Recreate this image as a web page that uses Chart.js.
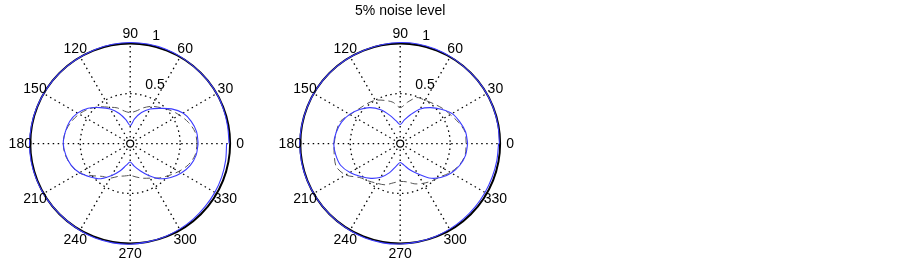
<!DOCTYPE html>
<html>
<head>
<meta charset="utf-8">
<script src="https://cdn.jsdelivr.net/npm/chart.js@4.4.1/dist/chart.umd.min.js"></script>
<style>
  body { margin: 0; background: #fff; width: 903px; height: 265px; overflow: hidden; }
  canvas { position: absolute; top: 0; }
  #leftPolar { left: 0; }
  #rightPolar { left: 270px; }
</style>
</head>
<body>
<canvas id="leftPolar" width="270" height="265"></canvas>
<canvas id="rightPolar" width="270" height="265"></canvas>
<script>
// angles in degrees, one value every 10 deg, last one closes the loop
const angles = [0,10,20,30,40,50,60,70,80,90,100,110,120,130,140,150,160,170,180,
                190,200,210,220,230,240,250,260,270,280,290,300,310,320,330,340,350,360];

// left plot (no noise)
const leftOuter = [0.99,0.99,0.995,1.0,1.0,1.0,1.005,1.01,1.012,1.012,1.01,1.005,1.0,1.0,1.0,1.0,1.003,1.005,1.008,
                   1.008,1.005,1.003,1.0,1.0,1.005,1.01,1.01,1.008,1.0,0.995,0.99,0.985,0.98,0.978,0.975,0.97,0.965];
const leftInner = [0.68,0.675,0.65,0.61,0.54,0.46,0.40,0.33,0.25,0.18,0.24,0.32,0.40,0.47,0.55,0.61,0.645,0.66,0.67,
                   0.655,0.63,0.585,0.52,0.46,0.37,0.29,0.22,0.185,0.23,0.29,0.37,0.46,0.53,0.59,0.64,0.67,0.68];
const leftTrue  = [0.67,0.66,0.62,0.57,0.52,0.47,0.43,0.38,0.33,0.31,0.33,0.38,0.42,0.48,0.54,0.59,0.63,0.66,0.67,
                   0.66,0.63,0.59,0.50,0.43,0.40,0.35,0.33,0.32,0.34,0.37,0.40,0.45,0.50,0.56,0.62,0.66,0.67];

// right plot (5% noise)
const rightOuter = [0.993,0.995,0.998,1.0,1.0,1.0,1.005,1.01,1.013,1.012,1.008,1.003,1.0,1.0,1.0,1.0,1.0,1.003,1.005,
                    1.005,1.003,1.0,1.0,1.002,1.006,1.01,1.01,1.006,1.0,0.995,0.99,0.985,0.982,0.98,0.98,0.982,0.985];
const rightInner = [0.675,0.665,0.635,0.60,0.535,0.47,0.40,0.31,0.24,0.19,0.23,0.30,0.39,0.47,0.53,0.585,0.625,0.65,0.665,
                    0.655,0.635,0.58,0.515,0.455,0.39,0.31,0.23,0.19,0.22,0.28,0.35,0.45,0.53,0.59,0.635,0.665,0.675];
const rightTrue  = [0.66,0.66,0.62,0.58,0.55,0.52,0.50,0.49,0.42,0.36,0.42,0.46,0.50,0.52,0.54,0.58,0.64,0.65,0.66,
                    0.67,0.68,0.63,0.53,0.49,0.46,0.44,0.40,0.38,0.39,0.43,0.46,0.49,0.52,0.58,0.63,0.66,0.66];

// grid / tick labels
const spokeAngles = [0,30,60,90,120,150,180,210,240,270,300,330];
const ringRadii = [0.5, 1];
const ringLabels = ['0.5', '1'];
const rMax = 1;

const FONT = '14px "Liberation Sans", Arial, sans-serif';
const PX = 104; // pixels per unit radius

function toXY(radii) {
  return radii.map((r, i) => {
    const t = angles[i] * Math.PI / 180;
    return { x: r * Math.cos(t), y: r * Math.sin(t) };
  });
}

const polarFrame = {
  id: 'polarFrame',
  beforeDatasetsDraw(chart) {
    const { ctx, scales: { x, y } } = chart;
    const cx = x.getPixelForValue(0), cy = y.getPixelForValue(0);
    const k = x.getPixelForValue(1) - cx;
    ctx.save();
    ctx.strokeStyle = '#000';
    ctx.lineWidth = 1.3;
    ctx.setLineDash([1.5, 3.5]);
    spokeAngles.forEach(a => {
      const t = a * Math.PI / 180;
      ctx.beginPath();
      ctx.moveTo(cx + 6 * Math.cos(t), cy - 6 * Math.sin(t));
      ctx.lineTo(cx + rMax * k * Math.cos(t), cy - rMax * k * Math.sin(t));
      ctx.stroke();
    });
    ringRadii.slice(0, -1).forEach(r => {
      ctx.beginPath();
      ctx.arc(cx, cy, r * k, 0, Math.PI * 2);
      ctx.stroke();
    });
    ctx.setLineDash([]);
    ctx.lineWidth = 2;
    ctx.beginPath();
    ctx.arc(cx, cy, rMax * k, 0, Math.PI * 2);
    ctx.stroke();
    ctx.restore();
  },
  afterDraw(chart, args, opts) {
    const { ctx, scales: { x, y } } = chart;
    const cx = x.getPixelForValue(0), cy = y.getPixelForValue(0);
    const k = x.getPixelForValue(1) - cx;
    ctx.save();
    ctx.font = FONT;
    ctx.fillStyle = '#000';
    ctx.textAlign = 'center';
    ctx.textBaseline = 'middle';
    spokeAngles.forEach(a => {
      const t = a * Math.PI / 180;
      ctx.fillText(String(a), cx + 1.1 * rMax * k * Math.cos(t), cy - 1.1 * rMax * k * Math.sin(t) + 1);
    });
    // radial labels along 82 deg
    const t82 = 82 * Math.PI / 180;
    ctx.textAlign = 'left';
    ctx.textBaseline = 'bottom';
    ringRadii.forEach((r, i) => {
      const rr = r + 0.025;
      ctx.fillText('  ' + ringLabels[i], cx + rr * k * Math.cos(t82), cy - rr * k * Math.sin(t82) + 1);
    });
    if (opts.title) {
      ctx.textAlign = 'center';
      ctx.textBaseline = 'alphabetic';
      ctx.fillText(opts.title, cx, 15);
    }
    ctx.restore();
  }
};

function makePolar(id, outer, inner, truth, title) {
  new Chart(document.getElementById(id), {
    type: 'scatter',
    data: {
      datasets: [
        { data: toXY(outer), showLine: true, borderColor: 'rgb(60,60,255)', borderWidth: 1.1,
          pointRadius: 0, tension: 0.3, order: 0 },
        { data: toXY(inner), showLine: true, borderColor: 'rgb(60,60,255)', borderWidth: 1.1,
          pointRadius: 0, tension: 0.3, order: 0 },
        { data: toXY(truth), showLine: true, borderColor: '#555', borderWidth: 1,
          borderDash: [7, 4], pointRadius: 0, tension: 0.3, order: 1 },
        { data: [{ x: 0, y: 0 }], showLine: false, pointRadius: 3.5, pointStyle: 'circle',
          borderColor: '#000', backgroundColor: 'rgba(0,0,0,0)', borderWidth: 1.3, order: 0 }
      ]
    },
    options: {
      responsive: false,
      devicePixelRatio: 1,
      animation: false,
      layout: { padding: 0 },
      plugins: { legend: { display: false }, tooltip: { enabled: false }, polarFrame: { title } },
      scales: {
        x: { display: false, min: -130 / PX, max: 140 / PX },
        y: { display: false, min: -121 / PX, max: 144 / PX }
      }
    },
    plugins: [polarFrame]
  });
}

makePolar('leftPolar', leftOuter, leftInner, leftTrue, '');
makePolar('rightPolar', rightOuter, rightInner, rightTrue, '5% noise level');
</script>
</body>
</html>
